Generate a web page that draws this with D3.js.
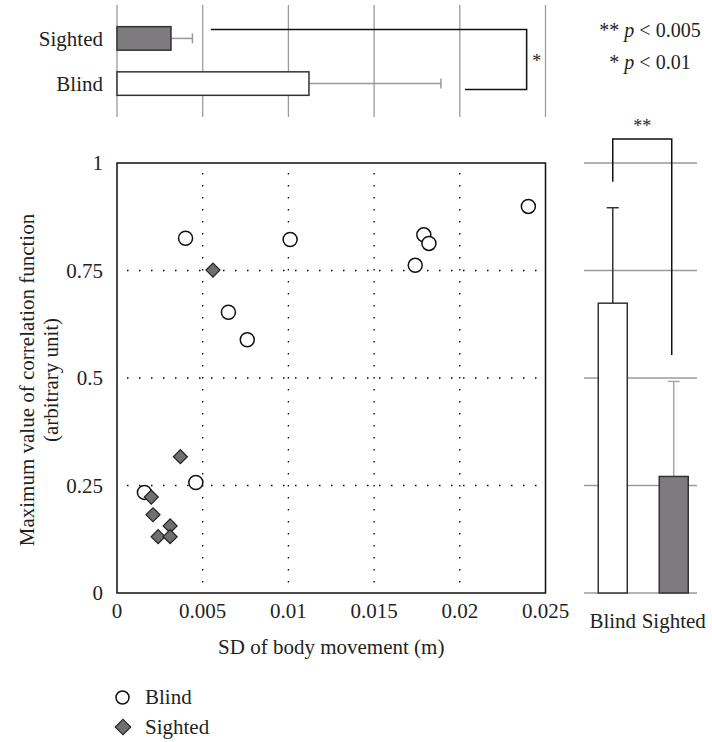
<!DOCTYPE html>
<html>
<head>
<meta charset="utf-8">
<script src="https://cdn.jsdelivr.net/npm/d3@7"></script>
<style>
  body { margin: 0; background: #fff; }
  svg text { font-family: "Liberation Serif", "Times New Roman", serif; fill: #231f20; }
</style>
</head>
<body>
<svg id="chart" width="712" height="742"></svg>
<script>
// scatter: SD of body movement (m) vs maximum of correlation function
var blindX   = [0.0040, 0.0101, 0.0179, 0.0182, 0.0174, 0.0240, 0.0065, 0.0076, 0.0046, 0.0016];
var blindY   = [0.825, 0.822, 0.833, 0.813, 0.762, 0.899, 0.653, 0.589, 0.257, 0.234];
var sightedX = [0.0056, 0.0037, 0.0020, 0.0021, 0.0031, 0.0024, 0.0031];
var sightedY = [0.751, 0.317, 0.223, 0.182, 0.156, 0.131, 0.131];

var xTicks = [0, 0.005, 0.01, 0.015, 0.02, 0.025];
var xTickLabels = ["0", "0.005", "0.01", "0.015", "0.02", "0.025"];
var yTicks = [0, 0.25, 0.5, 0.75, 1];
var yTickLabels = ["0", "0.25", "0.5", "0.75", "1"];

// top bars: mean SD of body movement
var topGroups = ["Sighted", "Blind"];
var topMean   = [0.00315, 0.0112];
var topSD     = [0.00125, 0.0077];

// right bars: mean maximum correlation
var sideGroups = ["Blind", "Sighted"];
var sideMean   = [0.674, 0.271];
var sideSD     = [0.222, 0.221];

var svg = d3.select("#chart");
svg.append("rect").attr("width", 712).attr("height", 742).attr("fill", "#fff");

var x = d3.scaleLinear().domain([0, 0.025]).range([117, 545.5]);
var y = d3.scaleLinear().domain([0, 1]).range([593, 163]);
var yTop = d3.scaleBand().domain(topGroups).range([5, 117]).padding(0.48);
var xSide = d3.scaleBand().domain(sideGroups).range([582.4, 704.1])
  .paddingInner(0.5246).paddingOuter(0.26);

var greyFill = "#7d7b7e", dark = "#333", gridGrey = "#9a9a9a";

// ---------- scatter ----------
var plot = svg.append("g");

plot.selectAll("line.vgrid")
  .data(xTicks.slice(1, -1))
  .enter().append("line")
  .attr("class", "vgrid")
  .attr("x1", function(d) { return x(d); }).attr("x2", function(d) { return x(d); })
  .attr("y1", y(1) + 10).attr("y2", y(0))
  .attr("stroke", "#000").attr("stroke-width", 1.3)
  .attr("stroke-dasharray", "1.5,10.5");

plot.selectAll("line.hgrid")
  .data(yTicks.slice(1, -1))
  .enter().append("line")
  .attr("class", "hgrid")
  .attr("x1", x(0) + 10).attr("x2", x(0.025) - 6)
  .attr("y1", function(d) { return y(d); }).attr("y2", function(d) { return y(d); })
  .attr("stroke", "#000").attr("stroke-width", 1.3)
  .attr("stroke-dasharray", "1.5,10.5");

plot.append("rect")
  .attr("x", x(0)).attr("y", y(1))
  .attr("width", x(0.025) - x(0)).attr("height", y(0) - y(1))
  .attr("fill", "none").attr("stroke", "#111").attr("stroke-width", 1.5);

plot.selectAll("text.xtick")
  .data(xTicks)
  .enter().append("text")
  .attr("class", "xtick")
  .attr("x", function(d) { return x(d); })
  .attr("y", 618)
  .attr("text-anchor", "middle")
  .attr("font-size", 21)
  .text(function(d, i) { return xTickLabels[i]; });

plot.selectAll("text.ytick")
  .data(yTicks)
  .enter().append("text")
  .attr("class", "ytick")
  .attr("x", 103)
  .attr("y", function(d) { return y(d); })
  .attr("dy", "0.35em")
  .attr("text-anchor", "end")
  .attr("font-size", 21)
  .text(function(d, i) { return yTickLabels[i]; });

svg.append("text")
  .attr("x", (x(0) + x(0.025)) / 2).attr("y", 654)
  .attr("text-anchor", "middle").attr("font-size", 21)
  .text("SD of body movement (m)");

svg.append("text")
  .attr("transform", "translate(34,380) rotate(-90)")
  .attr("text-anchor", "middle").attr("font-size", 21)
  .text("Maximum value of correlation function");
svg.append("text")
  .attr("transform", "translate(58,380) rotate(-90)")
  .attr("text-anchor", "middle").attr("font-size", 21)
  .text("(arbitrary unit)");

var blind = blindX.map(function(v, i) { return {x: v, y: blindY[i]}; });
var sighted = sightedX.map(function(v, i) { return {x: v, y: sightedY[i]}; });

plot.selectAll("circle.blind")
  .data(blind)
  .enter().append("circle")
  .attr("class", "blind")
  .attr("cx", function(d) { return x(d.x); })
  .attr("cy", function(d) { return y(d.y); })
  .attr("r", 7)
  .attr("fill", "#fff").attr("stroke", "#111").attr("stroke-width", 1.5);

var diamond = d3.symbol().type(d3.symbolSquare).size(98);
plot.selectAll("path.sighted")
  .data(sighted)
  .enter().append("path")
  .attr("class", "sighted")
  .attr("d", diamond)
  .attr("transform", function(d) { return "translate(" + x(d.x) + "," + y(d.y) + ") rotate(45)"; })
  .attr("fill", "#6f6f6f").attr("stroke", "#222").attr("stroke-width", 1.2);

// ---------- top bar chart ----------
var topG = svg.append("g");

topG.selectAll("line.tgrid")
  .data(xTicks)
  .enter().append("line")
  .attr("class", "tgrid")
  .attr("x1", function(d) { return x(d); }).attr("x2", function(d) { return x(d); })
  .attr("y1", 5).attr("y2", 117)
  .attr("stroke", gridGrey).attr("stroke-width", 1.3);

var topData = topGroups.map(function(g, i) { return {g: g, m: topMean[i], s: topSD[i]}; });

topG.selectAll("line.terr")
  .data(topData)
  .enter().append("line")
  .attr("class", "terr")
  .attr("x1", function(d) { return x(d.m); })
  .attr("x2", function(d) { return x(d.m + d.s); })
  .attr("y1", function(d) { return yTop(d.g) + yTop.bandwidth() / 2; })
  .attr("y2", function(d) { return yTop(d.g) + yTop.bandwidth() / 2; })
  .attr("stroke", "#999").attr("stroke-width", 1.5);

topG.selectAll("line.tcap")
  .data(topData)
  .enter().append("line")
  .attr("class", "tcap")
  .attr("x1", function(d) { return x(d.m + d.s); })
  .attr("x2", function(d) { return x(d.m + d.s); })
  .attr("y1", function(d) { return yTop(d.g) + yTop.bandwidth() / 2 - 5; })
  .attr("y2", function(d) { return yTop(d.g) + yTop.bandwidth() / 2 + 5; })
  .attr("stroke", "#999").attr("stroke-width", 1.5);

topG.selectAll("rect.tbar")
  .data(topData)
  .enter().append("rect")
  .attr("class", "tbar")
  .attr("x", x(0))
  .attr("y", function(d) { return yTop(d.g); })
  .attr("width", function(d) { return x(d.m) - x(0); })
  .attr("height", yTop.bandwidth())
  .attr("fill", function(d) { return d.g == "Sighted" ? greyFill : "#fff"; })
  .attr("stroke", dark).attr("stroke-width", 1.5);

topG.selectAll("text.tlabel")
  .data(topGroups)
  .enter().append("text")
  .attr("class", "tlabel")
  .attr("x", 103)
  .attr("y", function(d) { return yTop(d) + yTop.bandwidth() / 2; })
  .attr("dy", "0.35em")
  .attr("text-anchor", "end")
  .attr("font-size", 21)
  .text(function(d) { return d; });

// significance bracket between the top bars
topG.append("path")
  .attr("d", "M" + x(0.00547) + "," + 29.5 + "H" + x(0.0239) + "V" + 89.5 + "H" + x(0.0203))
  .attr("fill", "none").attr("stroke", "#111").attr("stroke-width", 1.5);
topG.append("text")
  .attr("x", x(0.0239) + 10).attr("y", 67)
  .attr("text-anchor", "middle").attr("font-size", 18)
  .text("*");

// ---------- right bar chart ----------
var side = svg.append("g");
var sideData = sideGroups.map(function(g, i) { return {g: g, m: sideMean[i], s: sideSD[i]}; });

side.selectAll("line.sgrid")
  .data(yTicks)
  .enter().append("line")
  .attr("class", "sgrid")
  .attr("x1", 584).attr("x2", 697)
  .attr("y1", function(d) { return y(d); }).attr("y2", function(d) { return y(d); })
  .attr("stroke", gridGrey).attr("stroke-width", 1.3);

side.selectAll("line.serr")
  .data(sideData)
  .enter().append("line")
  .attr("class", "serr")
  .attr("x1", function(d) { return xSide(d.g) + xSide.bandwidth() / 2; })
  .attr("x2", function(d) { return xSide(d.g) + xSide.bandwidth() / 2; })
  .attr("y1", function(d) { return y(d.m); })
  .attr("y2", function(d) { return y(d.m + d.s); })
  .attr("stroke", function(d) { return d.g == "Blind" ? dark : "#a8a8a8"; })
  .attr("stroke-width", 1.5);

side.selectAll("line.scap")
  .data(sideData)
  .enter().append("line")
  .attr("class", "scap")
  .attr("x1", function(d) { return xSide(d.g) + xSide.bandwidth() / 2 - 6; })
  .attr("x2", function(d) { return xSide(d.g) + xSide.bandwidth() / 2 + 6; })
  .attr("y1", function(d) { return y(d.m + d.s); })
  .attr("y2", function(d) { return y(d.m + d.s); })
  .attr("stroke", function(d) { return d.g == "Blind" ? dark : "#a8a8a8"; })
  .attr("stroke-width", 1.5);

side.selectAll("rect.sbar")
  .data(sideData)
  .enter().append("rect")
  .attr("class", "sbar")
  .attr("x", function(d) { return xSide(d.g); })
  .attr("y", function(d) { return y(d.m); })
  .attr("width", xSide.bandwidth())
  .attr("height", function(d) { return y(0) - y(d.m); })
  .attr("fill", function(d) { return d.g == "Sighted" ? greyFill : "#fff"; })
  .attr("stroke", dark).attr("stroke-width", 1.5);

side.selectAll("text.slabel")
  .data(sideGroups)
  .enter().append("text")
  .attr("class", "slabel")
  .attr("x", function(d) { return xSide(d) + xSide.bandwidth() / 2; })
  .attr("y", 628)
  .attr("text-anchor", "middle")
  .attr("font-size", 21)
  .text(function(d) { return d; });

var bx1 = xSide("Blind") + xSide.bandwidth() / 2,
    bx2 = xSide("Sighted") + xSide.bandwidth() / 2 - 2;
side.append("path")
  .attr("d", "M" + bx1 + "," + y(0.9565) + "V" + y(1.056) + "H" + bx2 + "V" + y(0.5535))
  .attr("fill", "none").attr("stroke", "#111").attr("stroke-width", 1.5);
side.append("text")
  .attr("x", (bx1 + bx2) / 2).attr("y", 132)
  .attr("text-anchor", "middle").attr("font-size", 18)
  .text("**");

// p-value notes
var note1 = svg.append("text").attr("x", 650).attr("y", 37)
  .attr("text-anchor", "middle").attr("font-size", 20);
note1.append("tspan").text("** ");
note1.append("tspan").attr("font-style", "italic").text("p");
note1.append("tspan").text(" < 0.005");

var note2 = svg.append("text").attr("x", 650).attr("y", 69)
  .attr("text-anchor", "middle").attr("font-size", 20);
note2.append("tspan").text("* ");
note2.append("tspan").attr("font-style", "italic").text("p");
note2.append("tspan").text(" < 0.01");

// legend
var legend = svg.append("g");
legend.append("circle")
  .attr("cx", 122.5).attr("cy", 697.5).attr("r", 6.5)
  .attr("fill", "#fff").attr("stroke", "#111").attr("stroke-width", 1.5);
legend.append("text").attr("x", 145).attr("y", 704).attr("font-size", 21).text("Blind");
legend.append("path")
  .attr("d", d3.symbol().type(d3.symbolSquare).size(120))
  .attr("transform", "translate(123,727) rotate(45)")
  .attr("fill", "#6f6f6f").attr("stroke", "#222").attr("stroke-width", 1.2);
legend.append("text").attr("x", 145).attr("y", 734).attr("font-size", 21).text("Sighted");
</script>
</body>
</html>
